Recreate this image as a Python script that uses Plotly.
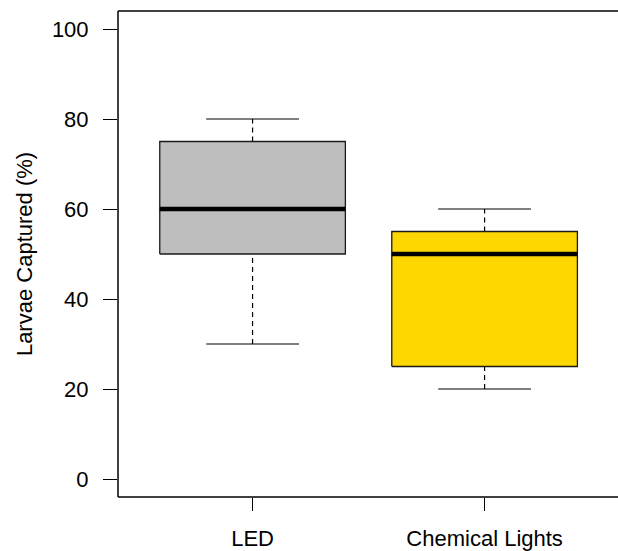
import plotly.graph_objects as go

categories = ["LED", "Chemical Lights"]
positions = [1, 2]
q_min = [30, 20]
q1 = [50, 25]
median = [60, 50]
q3 = [75, 55]
q_max = [80, 60]
fills = ["#BEBEBE", "#FFD700"]
y_ticks = [0, 20, 40, 60, 80, 100]

BOX_HALF = 0.4
CAP_HALF = 0.2
FONT = "Liberation Sans, Arial, sans-serif"
FS = 22

fig = go.Figure()
for i, p in enumerate(positions):
    fig.add_trace(go.Scatter(
        x=[p, p, None, p, p], y=[q_min[i], q1[i], None, q3[i], q_max[i]],
        mode="lines", line=dict(color="black", width=1.2, dash="5px,4px"),
        hoverinfo="skip", showlegend=False))
    fig.add_trace(go.Scatter(
        x=[p - CAP_HALF, p + CAP_HALF, None, p - CAP_HALF, p + CAP_HALF],
        y=[q_min[i], q_min[i], None, q_max[i], q_max[i]],
        mode="lines", line=dict(color="black", width=1.2),
        hoverinfo="skip", showlegend=False))
    fig.add_trace(go.Scatter(
        x=[p - BOX_HALF, p + BOX_HALF, p + BOX_HALF, p - BOX_HALF, p - BOX_HALF],
        y=[q1[i], q1[i], q3[i], q3[i], q1[i]],
        mode="lines", fill="toself", fillcolor=fills[i],
        line=dict(color="#1a1a1a", width=1.3),
        hoverinfo="skip", showlegend=False))
    fig.add_trace(go.Scatter(
        x=[p - BOX_HALF, p + BOX_HALF], y=[median[i], median[i]],
        mode="lines", line=dict(color="black", width=4.5),
        hoverinfo="skip", showlegend=False))

# frame: left, top, bottom (right edge lies outside the window in the reference)
frame = dict(color="black", width=1.5)
fig.add_shape(type="line", xref="paper", yref="paper", x0=0, x1=0, y0=0, y1=1, line=frame)
fig.add_shape(type="line", xref="paper", yref="paper", x0=0, x1=1, y0=1, y1=1, line=frame)
fig.add_shape(type="line", xref="paper", yref="paper", x0=0, x1=1, y0=0, y1=0, line=frame)

fig.update_layout(
    width=618, height=551,
    margin=dict(l=118, r=0, t=11, b=52),
    paper_bgcolor="white", plot_bgcolor="white",
    font=dict(family=FONT, size=FS, color="black"),
    xaxis=dict(
        range=[0.42, 2.575], tickmode="array", tickvals=positions, ticktext=categories,
        showgrid=False, zeroline=False, showline=False,
        ticks="outside", ticklen=13, tickwidth=1.2, tickcolor="black",
        tickfont=dict(size=FS), ticklabelstandoff=9,
    ),
    yaxis=dict(
        range=[-4, 104], tickmode="array", tickvals=y_ticks,
        showgrid=False, zeroline=False, showline=False,
        ticks="outside", ticklen=14, tickwidth=1.2, tickcolor="black",
        tickfont=dict(size=FS), ticklabelstandoff=10,
        title=dict(text="Larvae Captured (%)", font=dict(size=FS), standoff=13),
    ),
)

fig.write_html("out.html")
